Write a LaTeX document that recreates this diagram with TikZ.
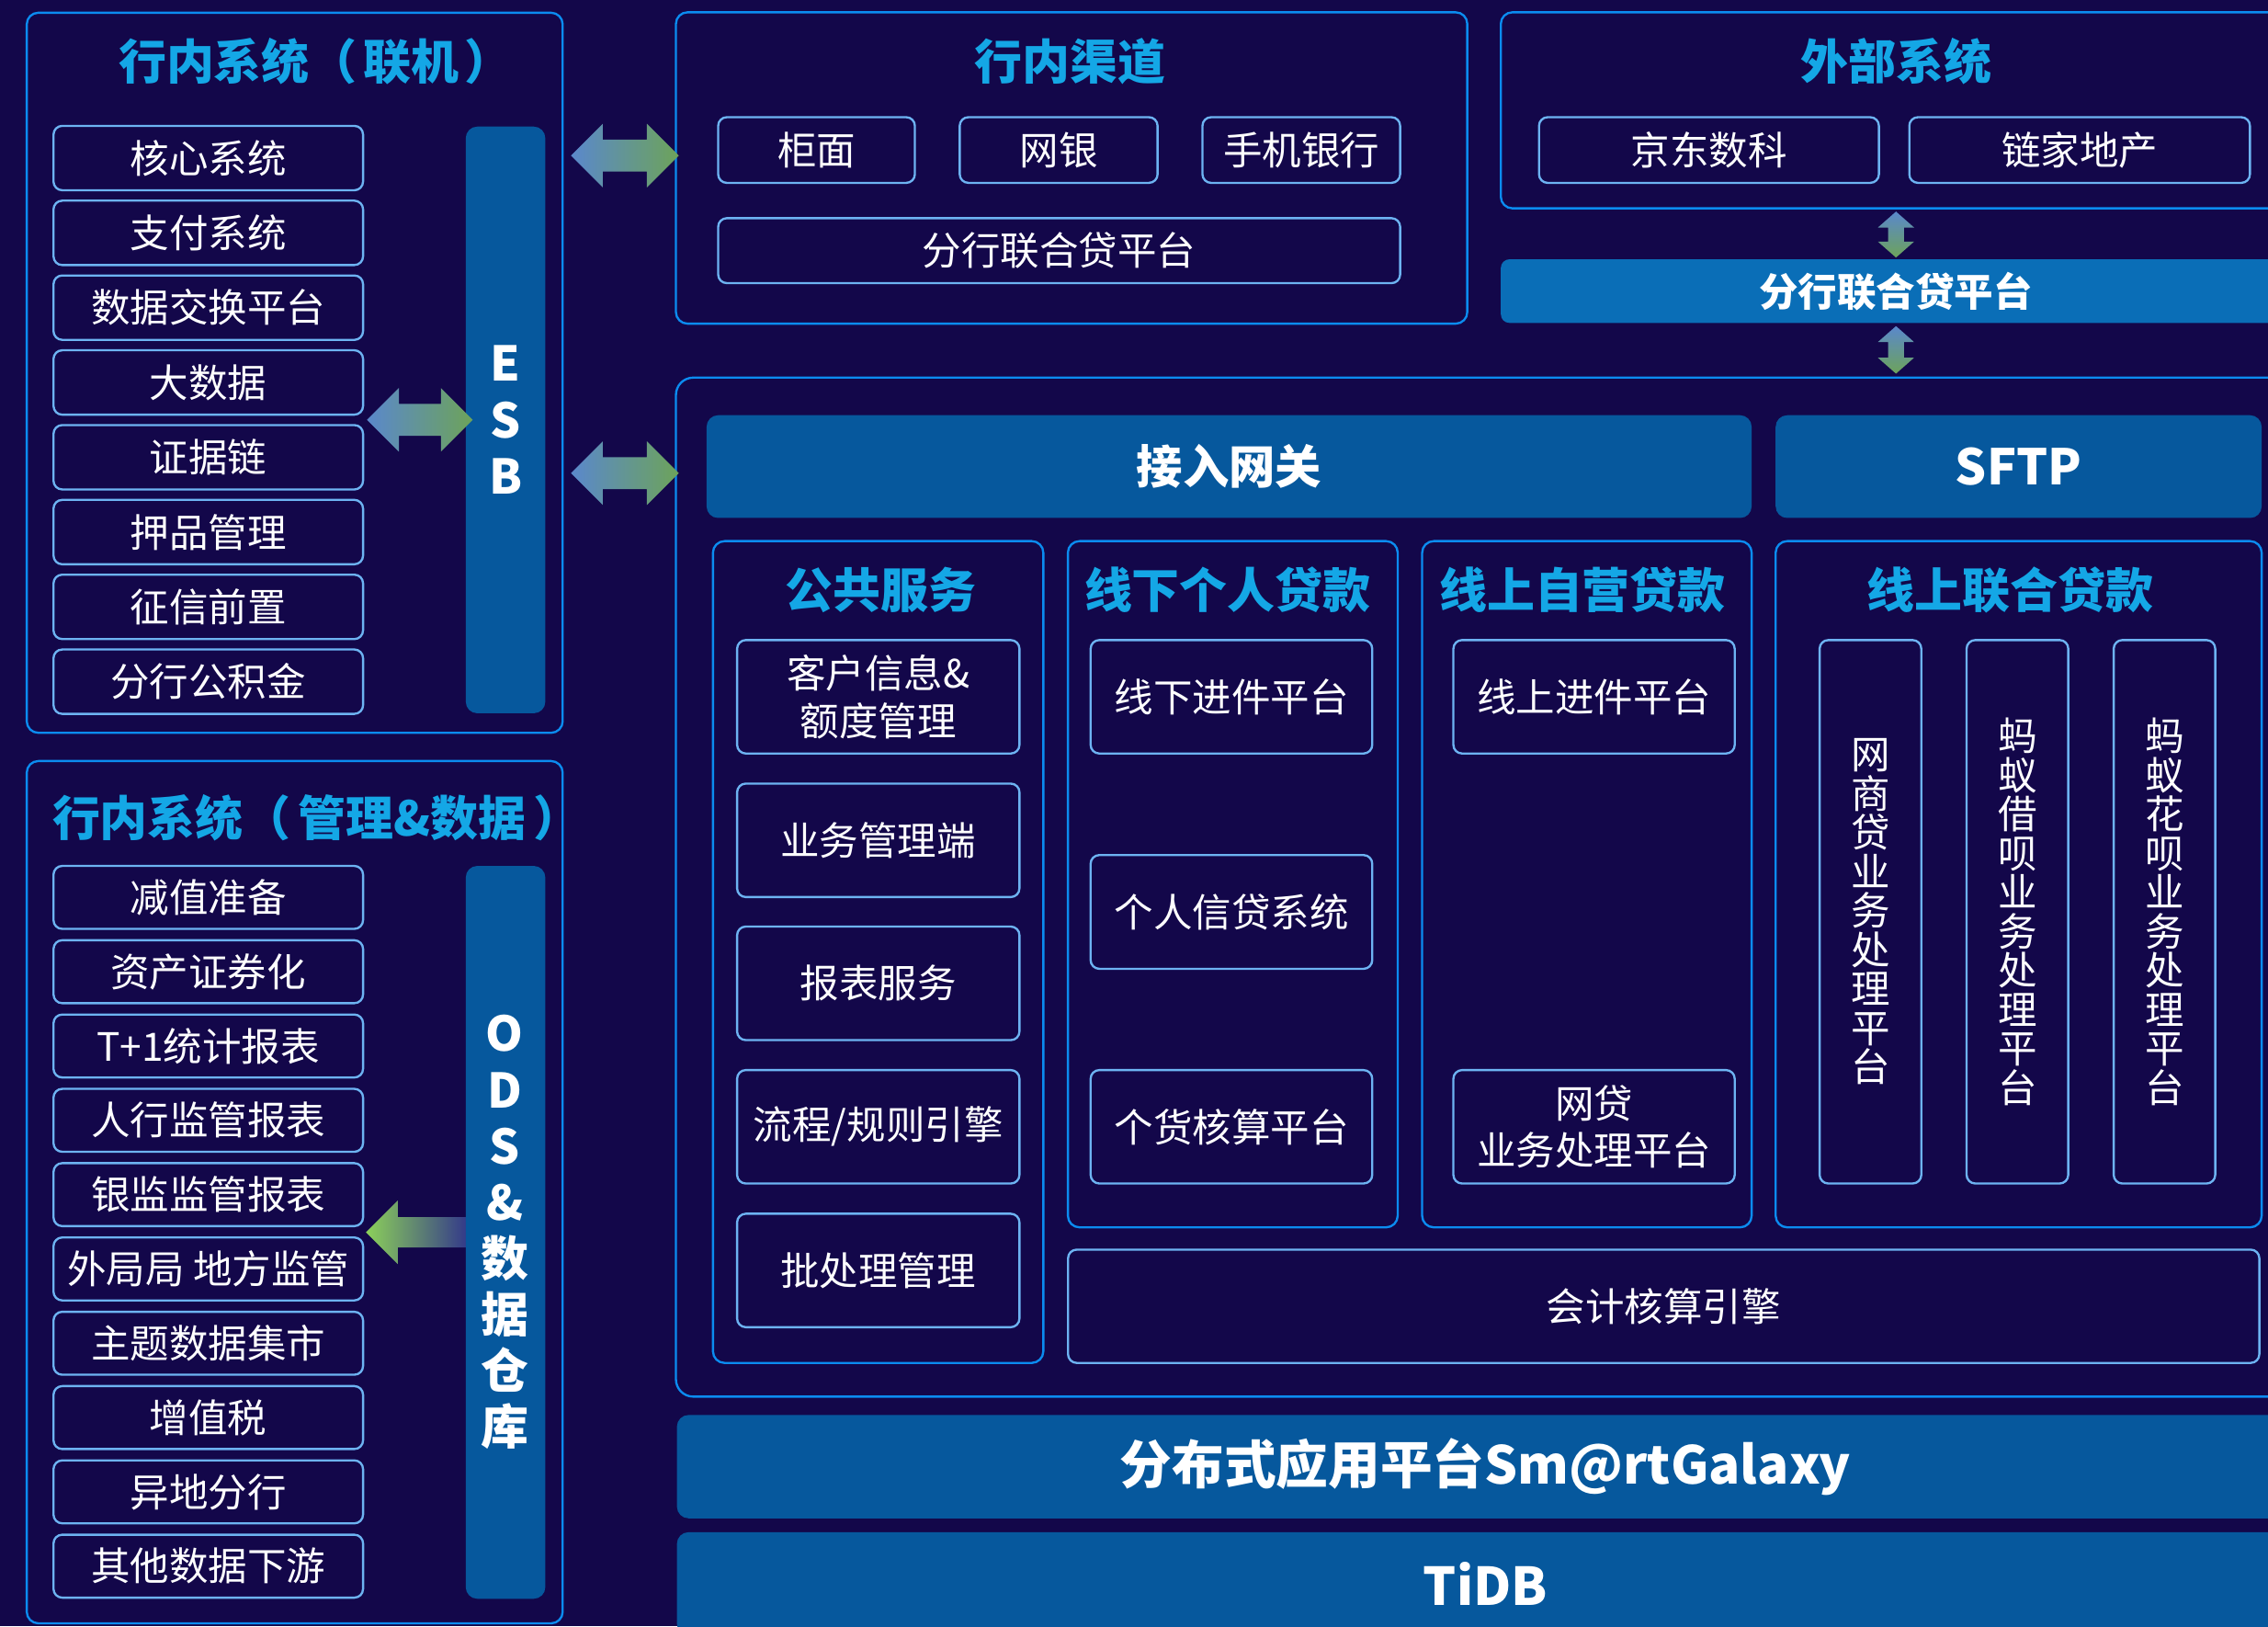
\documentclass[tikz,border=0pt]{standalone}
\usepackage{fontspec}
\setmainfont{Noto Sans CJK SC}
\usetikzlibrary{calc}
\definecolor{bgC}{HTML}{13074A}
\definecolor{outerC}{HTML}{0B8CF0}
\definecolor{itemC}{HTML}{6DB3F2}
\definecolor{titleC}{HTML}{14A7E6}
\definecolor{barC}{HTML}{06589D}
\definecolor{barL}{HTML}{0A6EB7}
\definecolor{arrBlue}{HTML}{5A88CC}
\definecolor{arrGreen}{HTML}{6DA35A}
\definecolor{odsG}{HTML}{8CD05A}
\definecolor{odsB}{HTML}{33398A}
% box node: #1 extra opts, #2 style, #3 name, #4 x1, #5 y1, #6 x2, #7 y2, #8 text
\newcommand\bx[8][]{\node[#2,minimum width={(#6)-(#4)},minimum height={(#7)-(#5)},#1] (#3) at ({((#4)+(#6))/2},{((#5)+(#7))/2}) {#8};}
% horizontal double arrow between two named coordinates
\newcommand\hdarrow[2]{\shade[left color=arrBlue,right color=arrGreen] let \p1=#1, \p2=#2 in
  (\x1,\y1) -- (\x1+22pt,\y1+22pt) -- (\x1+22pt,\y1+11pt) -- (\x2-22pt,\y1+11pt) -- (\x2-22pt,\y1+22pt) -- (\x2,\y1)
  -- (\x2-22pt,\y1-22pt) -- (\x2-22pt,\y1-11pt) -- (\x1+22pt,\y1-11pt) -- (\x1+22pt,\y1-22pt) -- cycle;}
% vertical double arrow (#1 top, #2 bottom)
\newcommand\vdarrow[2]{\shade[top color=arrBlue,bottom color=arrGreen] let \p1=#1, \p2=#2 in
  (\x1,\y1) -- (\x1+12.5pt,\y1-11pt) -- (\x1+5.5pt,\y1-11pt) -- (\x1+5.5pt,\y2+11pt) -- (\x1+12.5pt,\y2+11pt) -- (\x1,\y2)
  -- (\x1-12.5pt,\y2+11pt) -- (\x1-5.5pt,\y2+11pt) -- (\x1-5.5pt,\y1-11pt) -- (\x1-12.5pt,\y1-11pt) -- cycle;}
% single left arrow (#1 tip, #2 tail)
\newcommand\lsarrow[2]{\shade[left color=odsG,right color=odsB] let \p1=#1, \p2=#2 in
  (\x1,\y1) -- (\x1+22pt,\y1+22pt) -- (\x1+22pt,\y1+10.5pt) -- (\x2,\y1+10.5pt) -- (\x2,\y1-10.5pt)
  -- (\x1+22pt,\y1-10.5pt) -- (\x1+22pt,\y1-22pt) -- cycle;}
\begin{document}
\begin{tikzpicture}[x=1pt,y=-1pt,
  panel/.style={draw=outerC,line width=1.5pt,rounded corners=8pt,inner sep=0pt},
  item/.style={draw=itemC,line width=1.5pt,rounded corners=6pt,text=white,align=center,inner sep=0pt,
    font=\fontsize{27}{33}\selectfont},
  vitem/.style={item,font=\fontsize{27}{27}\selectfont},
  bar/.style={fill=barC,rounded corners=8pt,text=white,inner sep=0pt,align=center},
  ttl/.style={text=titleC,inner sep=0pt,font=\fontsize{33}{36}\selectfont\bfseries},
  bartxt/.style={text=white,inner sep=0pt,align=center,font=\fontsize{33}{39}\selectfont\bfseries}]
\useasboundingbox (0,0) rectangle (1568,1124);
\fill[bgC] (0,0) rectangle (1568,1124);
\clip (0,0) rectangle (1568,1124);

% ---------- left panel 1 ----------
\bx{panel}{p1}{18.5}{8.8}{389}{506.5}{}
\node[ttl] (t1) at (218,42.1) {行内系统（\hspace{4pt}联机\hspace{4pt}）};
\foreach \t [count=\i from 0] in {核心系统,支付系统,数据交换平台,大数据,证据链,押品管理,征信前置,分行公积金}{
  \pgfmathsetmacro\yy{87+\i*51.7}
  \bx{item}{o\i}{37}{\yy}{251}{\yy+44.5}{\t}
}
\bx{bar}{esb}{322}{87.5}{377}{493}{}
\node[bartxt] (esbt) at (esb.center) {E\\S\\B};

% ---------- left panel 2 ----------
\bx{panel}{p2}{18.5}{526}{389}{1122}{}
\node[ttl] (t2) at (219,565) {行内系统（\hspace{5pt}管理\&数据\hspace{5pt}）};
\foreach \t [count=\i from 0] in {减值准备,资产证券化,T+1统计报表,人行监管报表,银监监管报表,外局局 地方监管,主题数据集市,增值税,异地分行,其他数据下游}{
  \pgfmathsetmacro\yy{598.5+\i*51.36}
  \bx{item}{y\i}{37}{\yy}{251}{\yy+43.5}{\t}
}
\coordinate (odsTip) at (253,851.7);
\coordinate (odsTail) at (323,851.7);
\lsarrow{(odsTip)}{(odsTail)}
\bx{bar}{ods}{322}{598.5}{377}{1105}{}
\node[bartxt,font=\fontsize{33}{38.8}\selectfont\bfseries] (odst) at (349,851.7) {O\\D\\S\\\&\\数\\据\\仓\\库};

% ---------- 行内渠道 ----------
\bx{panel}{qd}{467.3}{8.5}{1014.4}{223.7}{}
\node[ttl] (t3) at (740,42.6) {行内渠道};
\bx{item}{gm}{496.5}{81}{632.5}{126.4}{柜面}
\bx{item}{wy}{663.5}{81}{800.3}{126.4}{网银}
\bx{item}{sj}{831.3}{81}{968}{126.4}{手机银行}
\bx{item}{fh}{496.5}{150.8}{968}{195.7}{分行联合贷平台}

% ---------- 外部系统 ----------
\bx{panel}{ext}{1037.6}{8.5}{1584}{144}{}
\node[ttl] (t4) at (1310.8,42.6) {外部系统};
\bx{item}{jd}{1064}{81}{1299}{126.4}{京东数科}
\bx{item}{lj}{1320}{81}{1555.5}{126.4}{链家地产}
\bx[fill=barL,rounded corners=6pt,font=\fontsize{27}{30}\selectfont\bfseries]{bar}{extbar}{1037.6}{179.2}{1584}{223.2}{分行联合贷平台}

% ---------- main box ----------
\bx[rounded corners=12pt]{panel}{main}{467.3}{261}{1590}{965.3}{}
\bx[font=\fontsize{32}{36}\selectfont\bfseries]{bar}{gw}{488.5}{287}{1211}{358}{接入网关}
\bx[font=\fontsize{34}{38}\selectfont\bfseries]{bar}{sftp}{1227.6}{287}{1563.6}{358}{SFTP}

% 公共服务
\bx{panel}{ps}{492.9}{374}{721.3}{942}{}
\node[ttl] (t5) at (609,408) {公共服务};
\bx{item}{ps1}{509.6}{442.4}{704.8}{520.8}{客户信息\&\\额度管理}
\bx{item}{ps2}{509.6}{541.6}{704.8}{620}{业务管理端}
\bx{item}{ps3}{509.6}{640.4}{704.8}{718.9}{报表服务}
\bx{item}{ps4}{509.6}{739.6}{704.8}{818}{流程/规则引擎}
\bx{item}{ps5}{509.6}{838.9}{704.8}{917.3}{批处理管理}

% 线下个人贷款
\bx{panel}{xx}{738.3}{374}{966.3}{848.3}{}
\node[ttl] (t6) at (848.7,408) {线下个人贷款};
\bx{item}{xx1}{754}{442.4}{948.7}{520.8}{线下进件平台}
\bx{item}{xx2}{754}{591}{948.7}{669.6}{个人信贷系统}
\bx{item}{xx3}{754}{739.6}{948.7}{818}{个货核算平台}

% 线上自营贷款
\bx{panel}{zy}{983.2}{374}{1211}{848.3}{}
\node[ttl] (t7) at (1094,408) {线上自营贷款};
\bx{item}{zy1}{1004.8}{442.4}{1199.3}{520.8}{线上进件平台}
\bx[font=\fontsize{27}{32}\selectfont]{item}{zy2}{1004.8}{739.6}{1199.3}{818}{网贷\\业务处理平台}

% 线上联合贷款
\bx{panel}{lh}{1227.6}{374}{1563.6}{848.3}{}
\node[ttl] (t8) at (1389.6,408) {线上联合贷款};
\bx{vitem}{lh1}{1258}{442.4}{1328.3}{818}{网\\商\\贷\\业\\务\\处\\理\\平\\台}
\bx{vitem}{lh2}{1359.6}{442.4}{1429.9}{818}{蚂\\蚁\\借\\呗\\业\\务\\处\\理\\平\\台}
\bx{vitem}{lh3}{1461.3}{442.4}{1531.5}{818}{蚂\\蚁\\花\\呗\\业\\务\\处\\理\\平\\台}

% 会计核算引擎
\bx{item}{kj}{738.4}{863.7}{1562}{942}{会计核算引擎}

% ---------- bottom bars ----------
\bx[font=\fontsize{36}{40}\selectfont\bfseries]{bar}{sg}{468}{978}{1586}{1049.4}{分布式应用平台Sm@rtGalaxy}
\bx[font=\fontsize{36}{40}\selectfont\bfseries]{bar}{tidb}{468}{1059}{1586}{1130.4}{TiDB}

% ---------- arrows ----------
\coordinate (a1s) at ($(p1.east |- gm.center)+(5,3.8)$);
\coordinate (a1e) at ($(qd.west |- gm.center)+(2.7,3.8)$);
\hdarrow{(a1s)}{(a1e)}
\coordinate (a2s) at ($(o3.south east)!0.5!(o4.north east)+(2,0)$);
\coordinate (a2e) at ($(esb.west |- a2s)+(5,0)$);
\hdarrow{(a2s)}{(a2e)}
\coordinate (a3s) at ($(p1.east |- gw.center)+(5,4.5)$);
\coordinate (a3e) at ($(main.west |- gw.center)+(2.7,4.5)$);
\hdarrow{(a3s)}{(a3e)}
\coordinate (v1t) at ($(extbar.north |- ext.south)+(0,1.5)$);
\coordinate (v1b) at ($(extbar.north)+(0,-1)$);
\vdarrow{(v1t)}{(v1b)}
\coordinate (v2t) at ($(extbar.south)+(0,2)$);
\coordinate (v2b) at ($(extbar.south |- main.north)+(0,-2)$);
\vdarrow{(v2t)}{(v2b)}
\end{tikzpicture}
\end{document}
